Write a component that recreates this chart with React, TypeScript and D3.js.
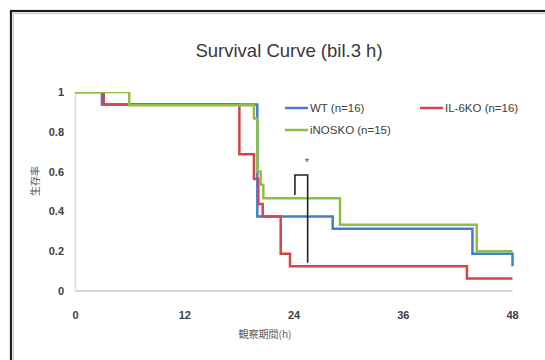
import React from "react";
import * as d3 from "d3";

// Kaplan-Meier steps: time (h) at which the survival fraction changes, and the new value
const wtTimes = [0, 2.9, 19.97, 28.25, 43.6, 48];
const wtSurv = [1, 0.9375, 0.375, 0.3125, 0.1875, 0.125];

const il6Times = [0, 3.1, 18.0, 19.6, 20.08, 20.56, 22.54, 23.56, 43.0, 48];
const il6Surv = [1, 0.9375, 0.6875, 0.5625, 0.4375, 0.375, 0.1875, 0.125, 0.0625, 0.0625];

const inosTimes = [0, 5.9, 19.6, 19.97, 20.34, 20.63, 29.05, 44.07, 48];
const inosSurv = [1, 0.9333, 0.8667, 0.6, 0.5333, 0.4667, 0.3333, 0.2, 0.2];

const seriesNames = ["WT (n=16)", "IL-6KO (n=16)", "iNOSKO (n=15)"];
const seriesColors = ["#3f7fd2", "#d2464b", "#8fbe45"];

const xTicks = [0, 12, 24, 36, 48];
const yTicks = [0, 0.2, 0.4, 0.6, 0.8, 1];

// Significance bracket between iNOSKO and IL-6KO at about 24-25.5 h
const bracketX = [24.1, 25.5];
const bracketY = [0.482, 0.583, 0.142];

const W = 545;
const H = 360;
const plot = { left: 75.5, right: 512.5, top: 92, bottom: 291 };

const font = "'Liberation Sans', Arial, sans-serif";
const cjk = "'Noto Sans CJK JP', 'Noto Sans CJK SC', sans-serif";

export default function App() {
  const x = d3.scaleLinear().domain([0, 48]).range([plot.left, plot.right]);
  const y = d3.scaleLinear().domain([0, 1]).range([plot.bottom, plot.top]);

  const line = d3
    .line<[number, number]>()
    .x((d) => x(d[0]))
    .y((d) => y(d[1]))
    .curve(d3.curveStepAfter);

  const series = [
    { times: wtTimes, surv: wtSurv },
    { times: il6Times, surv: il6Surv },
    { times: inosTimes, surv: inosSurv },
  ];

  const paths = series.map((s) => {
    const pts: [number, number][] = s.times.map((t, i) => [t, s.surv[i]]);
    return line(pts) || "";
  });

  const bracketPath =
    `M${x(bracketX[0])},${y(bracketY[0])}` +
    `V${y(bracketY[1])}H${x(bracketX[1])}V${y(bracketY[2])}`;

  const legend = [
    { i: 0, lx: 285, ly: 108 },
    { i: 1, lx: 420, ly: 108 },
    { i: 2, lx: 285, ly: 130 },
  ];

  return (
    <svg
      width={W}
      height={H}
      style={{ position: "absolute", left: 0, top: 0, background: "#fff" }}
    >
      <defs>
        <clipPath id="plotClip">
          <rect
            x={plot.left - 2}
            y={plot.top}
            width={plot.right - plot.left + 6}
            height={plot.bottom - plot.top + 4}
          />
        </clipPath>
      </defs>

      {/* outer frame */}
      <rect x={11} y={11} width={600} height={400} fill="#fff" stroke="#1e1e1e" strokeWidth={2.2} />
      <rect x={13.5} y={13.5} width={600} height={400} fill="none" stroke="#d0d0d0" strokeWidth={1.2} />

      <text
        x={289}
        y={57}
        textAnchor="middle"
        fontFamily={font}
        fontSize={18.5}
        fill="#383838"
      >
        Survival Curve (bil.3 h)
      </text>

      {/* axes */}
      <line x1={plot.left} x2={plot.right} y1={plot.bottom} y2={plot.bottom} stroke="#d6d6d6" strokeWidth={2} />
      <line x1={plot.left} x2={plot.left} y1={plot.top} y2={plot.bottom} stroke="#dcdcdc" strokeWidth={1.5} />

      {yTicks.map((t) => (
        <text
          key={t}
          x={64}
          y={y(t) + 4}
          textAnchor="end"
          fontFamily={font}
          fontSize={11}
          fontWeight="bold"
          fill="#404040"
        >
          {String(t)}
        </text>
      ))}
      {xTicks.map((t) => (
        <text
          key={t}
          x={x(t)}
          y={319}
          textAnchor="middle"
          fontFamily={font}
          fontSize={11}
          fontWeight="bold"
          fill="#404040"
        >
          {String(t)}
        </text>
      ))}

      <text
        transform={`translate(39,181) rotate(-90)`}
        textAnchor="middle"
        fontFamily={cjk}
        fontSize={10}
        fill="#595959"
      >
        生存率
      </text>
      <text
        x={265}
        y={338}
        textAnchor="middle"
        fontFamily={cjk}
        fontSize={10}
        fill="#595959"
      >
        観察期間(h)
      </text>

      {/* survival curves */}
      <g clipPath="url(#plotClip)" fill="none" strokeWidth={2.5}>
        {paths.map((p, i) => (
          <path key={i} d={p} stroke={seriesColors[i]} />
        ))}
      </g>

      {/* significance bracket */}
      <path d={bracketPath} fill="none" stroke="#222" strokeWidth={1.6} />
      <text
        x={307}
        y={166}
        textAnchor="middle"
        fontFamily={font}
        fontSize={11}
        fill="#555"
      >
        *
      </text>

      {/* legend */}
      {legend.map((l) => (
        <g key={l.i}>
          <line
            x1={l.lx}
            x2={l.lx + 23}
            y1={l.ly}
            y2={l.ly}
            stroke={seriesColors[l.i]}
            strokeWidth={2.5}
          />
          <text
            x={l.lx + 25}
            y={l.ly + 4}
            fontFamily={font}
            fontSize={11.5}
            fill="#404040"
          >
            {seriesNames[l.i]}
          </text>
        </g>
      ))}
    </svg>
  );
}
